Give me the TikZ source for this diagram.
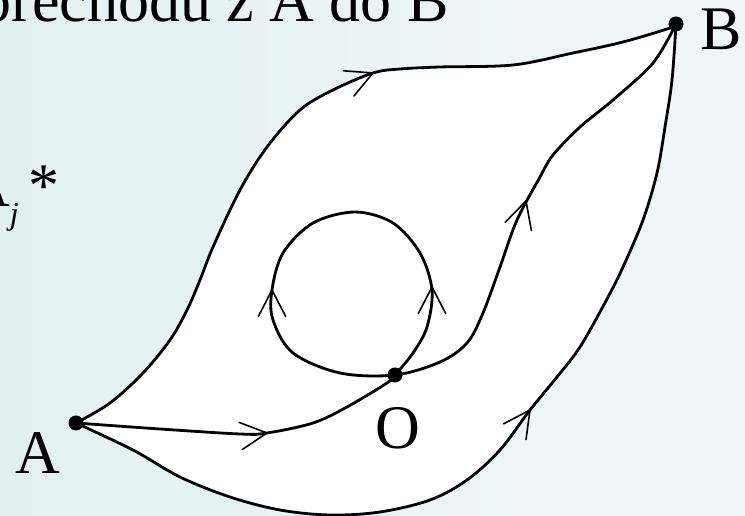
\documentclass[tikz,border=0pt]{standalone}
\usepackage{fontspec}
\setmainfont{Liberation Serif}
\begin{document}
\begin{tikzpicture}[x=1pt,y=1pt,
  curve/.style={line width=2.8pt, line join=round, line cap=round},
  lbl/.style={inner sep=0pt, font=\fontsize{62}{62}\selectfont},
  barb/.pic={\draw[line width=1.6pt, line cap=round, line join=miter] (-26.5,13.7) -- (0,0) -- (-26.5,-13.7);},
  dotmark/.style={fill=black}
]
\useasboundingbox (0,0) rectangle (745,516);
\shade[left color={rgb,255:red,227;green,240;blue,242}, right color={rgb,255:red,241;green,247;blue,249}] (0,0) rectangle (745,516);

\coordinate (A) at (76,93);
\coordinate (B) at (676,492);
\coordinate (O) at (395,141);

% white interior of the leaf
\fill[white] plot[smooth, tension=0.55] coordinates {(A) (110,113) (143,143) (170,176) (187,206) (200,236) (213,269) (240,326) (267,369) (300,406) (333,426) (373,443) (400,447) (440,449) (513,451) (573,463) (623,474) (670,488) (B)}
  -- plot[smooth, tension=0.55] coordinates {(B) (672,436) (665,389) (657,343) (643,296) (623,249) (607,217) (580,169) (557,139) (530,106) (500,66) (467,36) (430,16) (380,4) (330,1) (280,6) (230,19) (180,39) (133,66) (A)} -- cycle;

% upper boundary A -> B
\draw[curve] plot[smooth, tension=0.55] coordinates {(A) (110,113) (143,143) (170,176) (187,206) (200,236) (213,269) (240,326) (267,369) (300,406) (333,426) (373,443) (400,447) (440,449) (513,451) (573,463) (623,474) (670,488) (B)};

% lower boundary A -> B
\draw[curve] plot[smooth, tension=0.55] coordinates {(A) (133,66) (180,39) (230,19) (280,6) (330,1) (380,4) (430,16) (467,36) (500,66) (530,106) (557,139) (580,169) (607,217) (623,249) (643,296) (657,343) (665,389) (672,436) (B)};

% middle path A -> O -> loop -> O -> B
\draw[curve] plot[smooth, tension=0.55] coordinates {(A) (160,87) (240,82) (267,83) (313,93) (347,109) (387,133) (O) (413,163) (427,189) (432,226) (420,263) (393,293) (355,304) (313,293) (283,263) (272,226) (273,196) (293,163) (340,143) (O) (440,154) (467,173) (483,203) (500,249) (517,296) (540,339) (553,361) (580,389) (613,416) (653,453) (B)};

% arrowheads
\pic[rotate=23] at (373,443) {barb};
\pic[rotate=73] at (526,315) {barb};
\pic[rotate=6.5] at (267,83) {barb};
\pic[rotate=55] at (530,106) {barb};
\pic[rotate=90] at (272,226) {barb};
\pic[rotate=90] at (432,229) {barb};

% points
\fill[dotmark] (A) circle (7.5);
\fill[dotmark] (B) circle (7.5);
\fill[dotmark] (O) circle (7.5);

% labels
\node[lbl, anchor=base] (labB) at (721,466) {B};
\node[lbl, anchor=base] (labA) at (38,42) {A};
\node[lbl, anchor=base] (labO) at (397.5,67) {O};
\node[lbl, anchor=base east] (title) at (449,494) {přechodu z A do B};
\node[lbl, anchor=base west] (Aj) at (-35,309) {A\raisebox{-18pt}{\fontsize{32}{32}\selectfont\itshape j}\kern10pt*};
\end{tikzpicture}
\end{document}
